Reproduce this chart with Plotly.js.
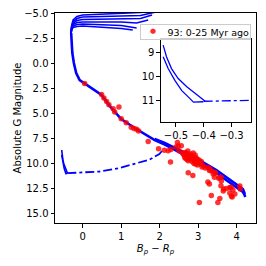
<!DOCTYPE html>
<html>
<head>
<meta charset="utf-8">
<script src="https://cdn.plot.ly/plotly-3.0.1.min.js"></script>
<style>html,body{margin:0;padding:0;background:#fff;}#chart{width:266px;height:266px;}</style>
</head>
<body>
<div id="chart"></div>
<script>
// Main sequence isochrone (shared part)
const msX   = [-0.30,-0.29,-0.27,-0.23,-0.17,-0.08,0.05,0.23,0.49,0.70,1.00,1.35,1.87,2.13,2.50,2.95,3.47,3.99,4.16,4.20,4.22];
const msMag = [-3.0,-2.0,-1.0,0.0,1.0,1.7,2.05,2.55,3.2,4.3,5.6,6.5,7.7,8.15,8.9,9.8,11.0,12.4,12.9,13.15,13.4];
// Slightly brighter companion isochrone on the lower main sequence
const ms2X   = [1.87,2.13,2.50,2.95,3.47,3.99,4.16,4.21];
const ms2Mag = [7.6,8.0,8.7,9.55,10.7,12.1,12.6,13.1];
// Upper branches of the isochrones (different ages)
const b1X = [-0.30,-0.29,-0.25,-0.15,0.00,0.50,1.00,1.50,2.00];
const b1M = [-3.0,-3.7,-4.3,-4.65,-4.8,-4.9,-4.95,-5.05,-5.3];
const b2X = [-0.30,-0.29,-0.25,-0.15,0.00,0.50,1.00,1.50,1.90];
const b2M = [-3.0,-3.6,-4.15,-4.45,-4.6,-4.65,-4.7,-4.75,-5.1];
const b3X = [-0.30,-0.29,-0.25,-0.15,0.00,0.50,1.00,1.50,1.80];
const b3M = [-3.0,-3.5,-4.0,-4.25,-4.35,-4.4,-4.4,-4.45,-4.8];
const b4X = [-0.30,-0.29,-0.25,-0.15,0.00,0.50,1.00,1.40,1.70];
const b4M = [-3.0,-3.45,-3.85,-4.05,-4.1,-4.1,-4.1,-4.0,-4.3];
const b5X = [-0.30,-0.29,-0.25,-0.15,0.00,0.50,1.00,1.40];
const b5M = [-3.0,-3.4,-3.7,-3.85,-3.9,-3.85,-3.75,-3.5];
const b6X = [-0.30,-0.29,-0.25,-0.15,0.00,0.50,1.00,1.30];
const b6M = [-3.0,-3.3,-3.55,-3.65,-3.7,-3.6,-3.45,-3.3];
// Pre-main-sequence / lower tracks (shown in inset too)
const outerX = [-0.546,-0.534,-0.516,-0.492,-0.461,-0.431,-0.401,-0.395];
const outerM = [8.70,9.18,9.67,10.08,10.42,10.70,10.97,11.02];
const innerX = [-0.546,-0.528,-0.504,-0.479,-0.455,-0.437,-0.401];
const innerM = [9.18,9.67,10.16,10.58,10.85,11.06,11.04];
const ddX = [-0.40,0.00,0.44,0.96,1.31,1.74,1.99,2.08];
const ddM = [11.02,10.95,10.85,10.5,10.15,9.65,9.1,8.7];
// Stars (93: 0-25 Myr ago)
const starX = [0.05,0.49,0.55,0.62,0.68,0.79,0.94,0.83,1.00,1.13,1.26,1.33,1.40,1.45,1.70,1.97,2.12,2.22,2.29,2.42,
  2.46,2.48,2.50,2.28,2.56,2.61,2.64,2.68,2.65,2.73,2.74,2.70,2.75,2.78,2.80,2.82,2.85,2.88,2.90,2.92,
  2.94,2.95,2.97,3.00,3.02,3.05,2.72,2.84,2.60,2.66,2.76,2.98,3.08,2.89,3.13,3.25,3.30,3.29,3.42,3.39,
  3.53,3.59,3.56,3.60,3.42,3.25,2.74,2.86,3.29,3.59,3.66,3.73,3.82,3.85,3.90,4.08,4.09,3.65,3.86,3.88,
  3.95,3.34,3.56,3.51,3.03,3.10,3.18,3.35,3.45,2.93,2.80,2.87,3.82];
const starM = [2.05,3.16,3.50,3.84,4.17,4.57,4.41,4.91,5.58,5.98,6.42,6.55,6.62,6.80,7.86,8.57,8.73,8.77,8.64,8.40,
  7.94,8.30,8.77,9.90,8.27,9.10,9.24,9.58,9.45,8.80,9.78,9.00,9.20,9.40,9.10,9.60,9.30,9.50,9.75,9.20,
  9.48,9.90,9.60,9.95,9.70,10.10,9.65,9.85,9.00,8.95,9.55,10.20,9.85,10.05,10.28,10.45,10.60,10.76,10.92,11.10,
  11.52,11.42,11.45,11.80,11.42,11.90,10.97,11.26,12.10,12.27,12.60,12.55,12.46,12.43,12.70,12.30,12.60,12.80,13.30,13.40,
  13.10,13.25,13.55,13.95,13.95,10.40,10.50,10.80,11.00,10.10,9.30,9.00,13.00];
const legendLabel = '93: 0-25 Myr ago';

const blue = '#0000ff';
function line(x, y, w, ax, dash) {
  return {x: x, y: y, type: 'scatter', mode: 'lines', showlegend: false, hoverinfo: 'skip',
    line: {color: blue, width: w, dash: dash || 'solid'}, xaxis: ax ? 'x2' : 'x', yaxis: ax ? 'y2' : 'y'};
}
const traces = [
  line(b1X, b1M, 1.6), line(b2X, b2M, 1.6), line(b3X, b3M, 1.6),
  line(b4X, b4M, 1.6), line(b5X, b5M, 1.6), line(b6X, b6M, 1.6),
  line(msX, msMag, 2.6), line(ms2X, ms2Mag, 2.6),
  line(outerX, outerM, 1.6), line(innerX, innerM, 1.6), line(ddX, ddM, 1.8, false, 'dashdot'),
  line(outerX, outerM, 1.3, true), line(innerX, innerM, 1.3, true), line(ddX, ddM, 1.3, true, 'dashdot'),
  {x: starX, y: starM, type: 'scatter', mode: 'markers', name: legendLabel, showlegend: false,
   marker: {color: 'rgba(255,0,0,0.8)', size: 5.5, line: {width: 0}}, xaxis: 'x', yaxis: 'y'}
];
const font = {family: 'DejaVu Sans, sans-serif', size: 10, color: '#000'};
// plot area: x 55..256 px, y 13..223 px
const px = v => (v - 55) / 201;
const py = v => (223 - v) / 210;
const layout = {
  width: 266, height: 266, autosize: false,
  margin: {l: 55, r: 10, t: 13, b: 43, pad: 0},
  paper_bgcolor: '#fff', plot_bgcolor: '#fff',
  font: font, showlegend: false,
  annotations: [
    {xref: 'paper', yref: 'paper', x: px(251), y: py(24), xanchor: 'right', yanchor: 'top',
     text: legendLabel, showarrow: false, align: 'right', valign: 'middle', width: 107, height: 12,
     borderpad: 1, bordercolor: '#cccccc', borderwidth: 1, bgcolor: 'rgba(255,255,255,0.8)',
     font: {family: 'DejaVu Sans, sans-serif', size: 9.5, color: '#000'}},
    {xref: 'paper', yref: 'paper', x: px(153), y: py(31), xanchor: 'center', yanchor: 'middle',
     text: '●', showarrow: false, font: {family: 'DejaVu Sans, sans-serif', size: 7, color: 'rgba(255,0,0,0.85)'}}
  ],
  xaxis: {domain: [0, 1], range: [-0.72, 4.5], tickvals: [0,1,2,3,4], ticktext: ['0','1','2','3','4'],
    ticks: 'outside', ticklen: 3.5, tickcolor: '#000', showline: true, linecolor: '#000', linewidth: 1,
    mirror: true, showgrid: false, zeroline: false, tickfont: {size: 10},
    title: {text: '<i>B</i><sub><i>p</i></sub> − <i>R</i><sub><i>p</i></sub>', font: {size: 10}, standoff: 4}},
  yaxis: {domain: [0, 1], range: [16.0, -5.0], tickvals: [-5,-2.5,0,2.5,5,7.5,10,12.5,15],
    ticktext: ['−5.0','−2.5','0.0','2.5','5.0','7.5','10.0','12.5','15.0'],
    ticks: 'outside', ticklen: 3.5, tickcolor: '#000', showline: true, linecolor: '#000', linewidth: 1,
    mirror: true, showgrid: false, zeroline: false, tickfont: {size: 10},
    title: {text: 'Absolute G Magnitude', font: {size: 10}, standoff: 0}},
  xaxis2: {domain: [0.527, 0.974], anchor: 'y2', range: [-0.554, -0.231], tickvals: [-0.5,-0.4,-0.3],
    ticktext: ['−0.5','−0.4','−0.3'], ticks: 'outside', ticklen: 3.5, tickcolor: '#000',
    showline: true, linecolor: '#000', linewidth: 1, mirror: true, showgrid: false, zeroline: false, tickfont: {size: 10}},
  yaxis2: {domain: [0.4795, 0.876], anchor: 'x2', range: [11.89, 8.45], tickvals: [9,10,11],
    ticktext: ['9','10','11'], ticks: 'outside', ticklen: 3.5, tickcolor: '#000',
    showline: true, linecolor: '#000', linewidth: 1, mirror: true, showgrid: false, zeroline: false, tickfont: {size: 10}}
};
Plotly.newPlot('chart', traces, layout, {staticPlot: true, displayModeBar: false});
</script>
</body>
</html>
